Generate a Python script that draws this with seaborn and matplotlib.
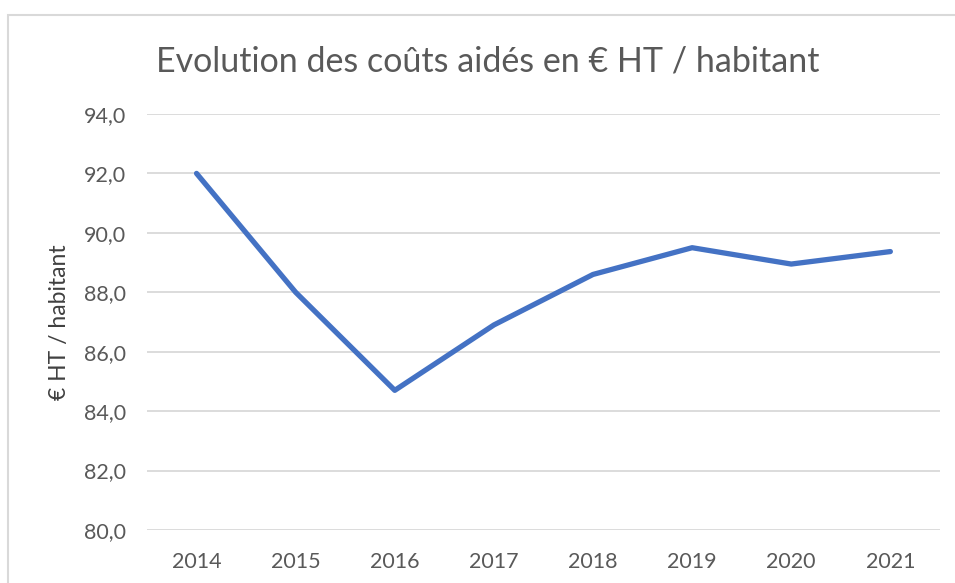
import pandas as pd
import seaborn as sns
import matplotlib.pyplot as plt
from matplotlib.patches import Rectangle
from matplotlib.ticker import FuncFormatter

years = ['2014', '2015', '2016', '2017', '2018', '2019', '2020', '2021']
couts = [92.0, 88.0, 84.7, 86.9, 88.6, 89.5, 88.95, 89.37]

data = pd.DataFrame({'annee': years, 'cout': couts})

sns.set_style('white')
plt.rcParams['font.family'] = ['Lato', 'DejaVu Sans']

fig = plt.figure(figsize=(9.55, 5.83), dpi=100)
ax = fig.add_axes([0.1539, 0.0909, 0.8303, 0.7136])

sns.lineplot(data=data, x='annee', y='cout', ax=ax, color='#4472C4',
             linewidth=3.8, solid_capstyle='round', solid_joinstyle='round', sort=False)

ax.set_ylim(80, 94)
ax.set_yticks(range(80, 95, 2))
ax.yaxis.set_major_formatter(FuncFormatter(lambda v, p: f'{v:.1f}'.replace('.', ',')))
ax.set_xlim(-0.5, len(years) - 0.5)
ax.grid(axis='y', color='#D9D9D9', linewidth=1.3)
ax.set_axisbelow(True)
for s in ax.spines.values():
    s.set_visible(False)
ax.tick_params(axis='both', length=0, labelsize=15.5, labelcolor='#595959')
ax.tick_params(axis='y', pad=15)
ax.tick_params(axis='x', pad=16)

ax.set_xlabel('')
ax.set_ylabel('€ HT / habitant', fontsize=16.5, color='#404040')
ax.yaxis.set_label_coords(-0.097, 0.5)
fig.text(0.5105, 0.895, 'Evolution des coûts aidés en € HT / habitant',
         ha='center', va='center', fontsize=24.5, color='#595959')

fig.patches.append(Rectangle((8 / 955, -0.05), 1.1, (583 - 15) / 583 + 0.05,
                             transform=fig.transFigure, fill=False,
                             edgecolor='#D9D9D9', linewidth=1.5))

plt.savefig('out.png', dpi=100)
